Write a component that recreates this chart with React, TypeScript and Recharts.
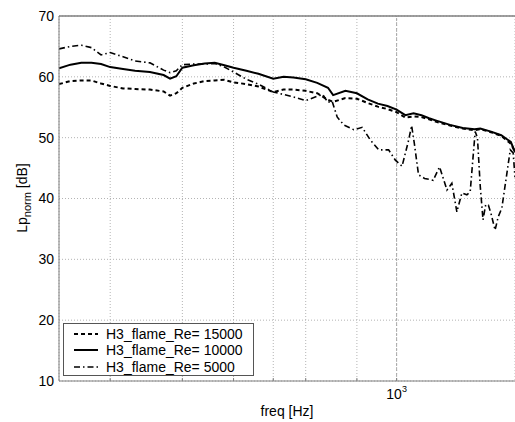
import React from "react";
import {
  LineChart,
  Line,
  XAxis,
  YAxis,
  CartesianGrid,
  ReferenceLine,
} from "recharts";

// frequencies [Hz] shared by Re=15000 and Re=10000
const freqMain = [
  150, 160, 170, 180, 190, 200, 215, 230, 250, 270, 280, 290, 300, 320, 340, 360, 380, 400,
  430, 460, 500, 530, 560, 600, 640, 680, 700, 750, 800, 850, 900, 950, 1000, 1050, 1100,
  1150, 1200, 1250, 1350, 1450, 1550, 1600, 1700, 1800, 1900, 1945,
];
const lpRe15000 = [
  58.8, 59.3, 59.4, 59.4, 58.9, 58.5, 58.1, 58.0, 57.9, 57.6, 56.9, 57.3, 58.2, 58.9, 59.3,
  59.4, 59.5, 59.1, 58.8, 58.4, 57.5, 57.9, 57.9, 57.7, 57.3, 56.2, 55.9, 56.5, 56.4, 55.7,
  55.1, 54.7, 54.2, 53.3, 53.5, 53.4, 53.0, 52.6, 52.0, 51.5, 51.2, 51.4, 50.9, 50.3, 49.0,
  47.7,
];
const lpRe10000 = [
  61.4, 62.0, 62.3, 62.3, 62.1, 61.6, 61.3, 61.0, 60.8, 60.3, 59.7, 60.1, 61.5, 61.9, 62.2,
  62.3, 61.9, 61.5, 61.0, 60.5, 59.7, 60.0, 59.9, 59.6, 59.0, 58.2, 57.0, 57.7, 57.3, 56.3,
  55.6, 55.2, 54.6, 53.7, 54.0, 53.7, 53.2, 52.8, 52.1, 51.6, 51.4, 51.5, 51.0, 50.4, 49.3,
  47.6,
];

// Re=5000 has its own frequency points (sharp resonance peaks)
const freq5000 = [
  150, 160, 170, 180, 190, 200, 215, 230, 250, 270, 280, 290, 300, 320, 340, 360, 380, 400,
  430, 460, 500, 530, 560, 600, 640, 660, 680, 696, 716, 743, 786, 824, 863, 904, 956, 993,
  1031, 1070, 1088, 1105, 1131, 1170, 1228, 1273, 1327, 1364, 1403, 1443, 1484, 1512, 1555,
  1575, 1600, 1625, 1650, 1675, 1700, 1739, 1770, 1806, 1859, 1894, 1925, 1945,
];
const lpRe5000 = [
  64.6, 65.0, 65.2, 64.8, 63.6, 64.0, 63.3, 62.6, 62.3, 61.1, 60.7, 61.0, 62.0, 62.1, 62.1,
  62.2, 61.6, 60.8, 59.6, 58.8, 57.5, 57.1, 56.7, 56.1, 56.8, 57.1, 55.8, 56.0, 53.4, 52.1,
  51.3, 51.7, 49.6, 48.0, 48.0, 46.3, 45.3, 49.6, 52.0, 49.0, 43.9, 43.3, 43.0, 45.2, 41.4,
  42.5, 37.8, 40.9, 40.6, 41.1, 51.0, 50.0, 42.0, 36.5, 39.0, 38.9, 37.5, 34.8, 37.0, 38.4,
  44.2, 48.0, 47.5, 43.5,
];

const xGridTicks = [200, 300, 400, 500, 600, 700, 800, 900, 1000];
const yTicks = [10, 20, 30, 40, 50, 60, 70];

const seriesNames = ["H3_flame_Re= 15000", "H3_flame_Re= 10000", "H3_flame_Re= 5000"];

const toPoints = (fs: number[], vs: number[]) => fs.map((f, i) => ({ f, v: vs[i] }));
const data15000 = toPoints(freqMain, lpRe15000);
const data10000 = toPoints(freqMain, lpRe10000);
const data5000 = toPoints(freq5000, lpRe5000);

const FONT = "'Liberation Sans', Arial, Helvetica, sans-serif";
const AXIS = "#7f7f7f";
const GRID = "#b4b4b4";

const styles = [
  { dash: "4 3", width: 2 },
  { dash: undefined, width: 2 },
  { dash: "6 3 1.5 3", width: 1.6 },
];

// eslint-disable-next-line @typescript-eslint/no-explicit-any
const FreqTick = ({ x, y, payload }: any) => (
  <g>
    <line x1={x} x2={x} y1={y} y2={y - 3} stroke={AXIS} />
    {payload.value === 1000 && (
      <text x={x} y={y + 18} textAnchor="middle" fontSize={14} fill="#000" fontFamily={FONT}>
        10
        <tspan dy={-7} fontSize={9}>
          3
        </tspan>
      </text>
    )}
  </g>
);

const YLabel = () => (
  <text
    x={27}
    y={198}
    transform="rotate(-90, 27, 198)"
    textAnchor="middle"
    fontSize={14}
    fontFamily={FONT}
    fill="#000"
  >
    Lp
    <tspan dy={4} fontSize={11}>
      norm
    </tspan>
    <tspan dy={-4}> [dB]</tspan>
  </text>
);

const XLabel = () => (
  <text x={287} y={416} textAnchor="middle" fontSize={14} fontFamily={FONT} fill="#000">
    freq [Hz]
  </text>
);

const LegendBox = () => (
  <div
    style={{
      position: "absolute",
      left: 63,
      top: 323,
      width: 189,
      height: 51,
      border: "1px solid #555",
      background: "#fff",
      fontFamily: FONT,
      fontSize: 14,
    }}
  >
    {seriesNames.map((name, i) => (
      <div
        key={name}
        style={{ position: "absolute", left: 0, top: 2 + i * 16.4, height: 16, display: "flex", alignItems: "center" }}
      >
        <svg width={40} height={16}>
          <line
            x1={10}
            x2={34}
            y1={8}
            y2={8}
            stroke="#000"
            strokeWidth={styles[i].width}
            strokeDasharray={styles[i].dash}
          />
        </svg>
        <span style={{ marginLeft: 2, lineHeight: "16px", whiteSpace: "nowrap" }}>{name}</span>
      </div>
    ))}
  </div>
);

export default function App() {
  return (
    <div style={{ position: "absolute", left: 0, top: 0, width: 515, height: 422, background: "#fff" }}>
      <LineChart width={515} height={422} margin={{ top: 16, right: 0, bottom: 0, left: 0 }}>
        <CartesianGrid stroke={GRID} strokeDasharray="1 2" />
        <XAxis
          dataKey="f"
          type="number"
          scale="log"
          domain={[150, 1945]}
          allowDataOverflow
          ticks={xGridTicks}
          tick={<FreqTick />}
          tickSize={0}
          tickMargin={0}
          tickLine={false}
          stroke={AXIS}
          height={41}
          label={<XLabel />}
        />
        <YAxis
          type="number"
          domain={[10, 70]}
          ticks={yTicks}
          width={59}
          tickSize={0}
          tickMargin={5}
          tickLine={false}
          stroke={AXIS}
          tick={{ fontSize: 14, fill: "#000", fontFamily: FONT }}
          label={<YLabel />}
        />
        <ReferenceLine x={1000} stroke="#a8a8a8" strokeDasharray="3 2" />
        <ReferenceLine y={70} stroke={AXIS} strokeWidth={1.5} />
        <Line
          data={data15000}
          dataKey="v"
          name={seriesNames[0]}
          type="linear"
          stroke="#000"
          strokeWidth={styles[0].width}
          strokeDasharray={styles[0].dash}
          dot={false}
          isAnimationActive={false}
        />
        <Line
          data={data10000}
          dataKey="v"
          name={seriesNames[1]}
          type="linear"
          stroke="#000"
          strokeWidth={styles[1].width}
          dot={false}
          isAnimationActive={false}
        />
        <Line
          data={data5000}
          dataKey="v"
          name={seriesNames[2]}
          type="linear"
          stroke="#000"
          strokeWidth={styles[2].width}
          strokeDasharray={styles[2].dash}
          dot={false}
          isAnimationActive={false}
        />
      </LineChart>
      <LegendBox />
    </div>
  );
}
